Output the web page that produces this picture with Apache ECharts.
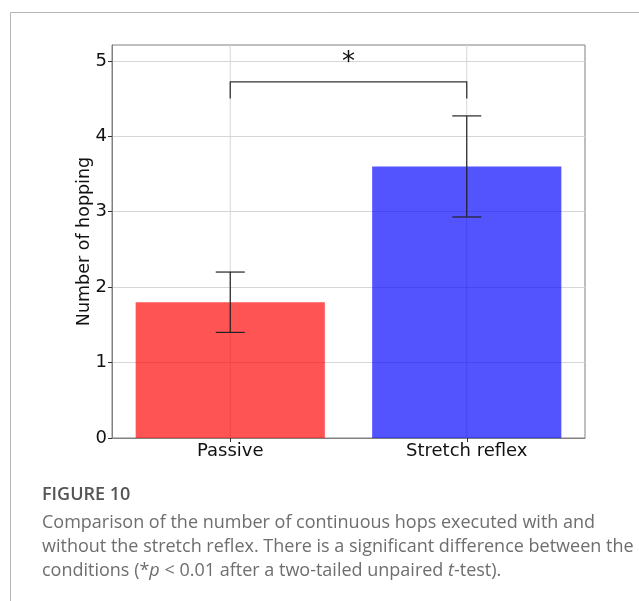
<!DOCTYPE html>
<html>
<head>
<meta charset="utf-8">
<script src="https://cdn.jsdelivr.net/npm/echarts@6/dist/echarts.min.js"></script>
<style>
html,body{margin:0;padding:0;background:#fff;}
#chart{width:639px;height:601px;}
</style>
</head>
<body>
<div id="chart"></div>
<script>
const categories = ['Passive', 'Stretch reflex'];
const means = [1.8, 3.6];
const errLow = [1.4, 2.93];
const errHigh = [2.2, 4.27];
const barColors = ['rgba(255,0,0,0.67)', 'rgba(0,0,255,0.67)'];
const yTicks = [0, 1, 2, 3, 4, 5];
const bracketTop = 4.72;
const bracketLeg = 4.5;
const starY = 4.97;
const starText = '*';
const yName = 'Number of hopping';
const captionTitle = 'FIGURE 10';
const captionLines = [
  'Comparison of the number of continuous hops executed with and',
  'without the stretch reflex. There is a significant difference between the',
  'conditions (*'
];

const chart = echarts.init(document.getElementById('chart'), null, {renderer: 'canvas'});
const tickFont = 'DejaVu Sans';
const capFont = 'Open Sans';
const capSize = 18;
const capColor = '#6e6e6e';

const option = {
  animation: false,
  backgroundColor: '#fff',
  grid: {left: 112, right: 54, top: 45, bottom: 163, show: true, borderColor: '#808080', borderWidth: 1},
  xAxis: {
    type: 'category',
    data: categories,
    boundaryGap: true,
    axisLine: {show: true, lineStyle: {color: '#808080'}},
    axisTick: {show: true, alignWithLabel: true, length: 4, lineStyle: {color: '#333'}},
    axisLabel: {color: '#111', fontFamily: tickFont, fontSize: 18, margin: 4},
    splitLine: {show: false}
  },
  yAxis: {
    type: 'value',
    min: 0, max: 5.21, interval: 1,
    name: yName,
    nameLocation: 'middle',
    nameGap: 19,
    nameMoveOverlap: false,
    nameTextStyle: {color: '#111', fontFamily: tickFont, fontSize: 17.5},
    axisLine: {show: true, lineStyle: {color: '#808080'}},
    axisTick: {show: true, length: 4, lineStyle: {color: '#333'}, customValues: yTicks},
    axisLabel: {color: '#111', fontFamily: tickFont, fontSize: 18, margin: 5, customValues: yTicks},
    splitLine: {show: true, lineStyle: {color: '#d6d6d6', width: 1}}
  },
  series: [
    {
      type: 'custom',
      z: 1,
      silent: true,
      data: categories.map((c, i) => [i]),
      renderItem: function (params, api) {
        const top = api.coord([api.value(0), 5.21]);
        const bot = api.coord([api.value(0), 0]);
        return {type: 'line', shape: {x1: top[0], y1: top[1], x2: bot[0], y2: bot[1]},
          style: {stroke: '#d6d6d6', lineWidth: 1}};
      }
    },
    {
      type: 'bar',
      z: 2,
      barWidth: '80%',
      data: means.map((v, i) => ({value: v, itemStyle: {color: barColors[i]}}))
    },
    {
      type: 'custom',
      z: 3,
      silent: true,
      data: categories.map((c, i) => [i, errLow[i], errHigh[i]]),
      renderItem: function (params, api) {
        const lo = api.coord([api.value(0), api.value(1)]);
        const hi = api.coord([api.value(0), api.value(2)]);
        const hw = 14.5;
        const st = {stroke: '#222', lineWidth: 1.2};
        return {type: 'group', children: [
          {type: 'line', shape: {x1: lo[0], y1: lo[1], x2: hi[0], y2: hi[1]}, style: st},
          {type: 'line', shape: {x1: lo[0]-hw, y1: lo[1], x2: lo[0]+hw, y2: lo[1]}, style: st},
          {type: 'line', shape: {x1: hi[0]-hw, y1: hi[1], x2: hi[0]+hw, y2: hi[1]}, style: st}
        ]};
      }
    },
    {
      type: 'custom',
      z: 4,
      silent: true,
      data: [[0, 1]],
      renderItem: function (params, api) {
        const aTop = api.coord([0, bracketTop]);
        const aLeg = api.coord([0, bracketLeg]);
        const bTop = api.coord([1, bracketTop]);
        const bLeg = api.coord([1, bracketLeg]);
        const s = api.coord([0, starY]);
        return {type: 'group', children: [
          {type: 'polyline', shape: {points: [aLeg, aTop, bTop, bLeg]}, style: {stroke: '#333', lineWidth: 1.3, fill: null}},
          {type: 'text', x: (aTop[0] + bTop[0]) / 2, y: s[1],
            style: {text: starText, fontFamily: tickFont, fontSize: 26, fill: '#111', align: 'center', verticalAlign: 'middle'}}
        ]};
      }
    }
  ],
  graphic: [
    {type: 'rect', shape: {x: 10.5, y: 12.5, width: 800, height: 800}, style: {fill: null, stroke: '#b5b5b5', lineWidth: 1}, silent: true},
    {type: 'text', x: 42, y: 486, style: {text: captionTitle, fontFamily: capFont, fontWeight: 600, fontSize: capSize, fill: '#555'}},
    {type: 'text', x: 42, y: 514, style: {text: captionLines[0], fontFamily: capFont, fontSize: capSize, fill: capColor}},
    {type: 'text', x: 42, y: 538, style: {text: captionLines[1], fontFamily: capFont, fontSize: capSize, fill: capColor}},
    {type: 'text', x: 42, y: 562, style: {
      text: '{n|conditions (*}{i|p}{n| < 0.01 after a two-tailed unpaired }{i|t}{n|-test).}',
      rich: {
        n: {fontFamily: capFont, fontSize: capSize, fill: capColor, color: capColor},
        i: {fontFamily: capFont, fontSize: capSize, fontStyle: 'italic', fill: capColor, color: capColor}
      }}}
  ]
};
chart.setOption(option);
</script>
</body>
</html>
